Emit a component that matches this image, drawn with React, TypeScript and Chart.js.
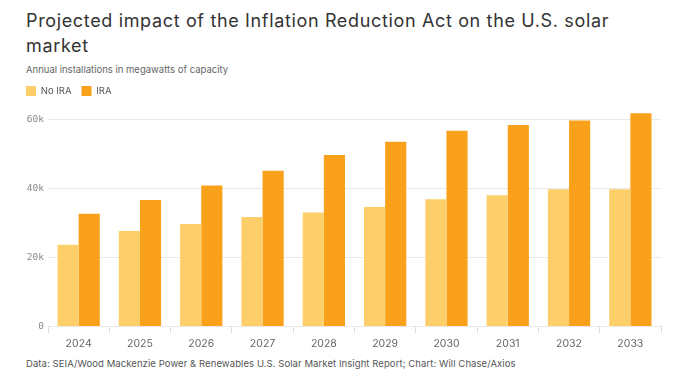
import React, { useEffect, useRef } from "react";
import { Chart, registerables } from "chart.js";

Chart.register(...registerables);

const years = ["2024", "2025", "2026", "2027", "2028", "2029", "2030", "2031", "2032", "2033"];
const noIra = [23700, 27700, 29700, 31800, 33100, 34700, 36900, 38100, 39800, 39800];
const ira = [32700, 36700, 40900, 45200, 49800, 53600, 56800, 58500, 59800, 61900];
const yTicks = [0, 20000, 40000, 60000];
const seriesNames = ["No IRA", "IRA"];
const seriesColors = ["#FDCF6A", "#F9A11B"];

const title = "Projected impact of the Inflation Reduction Act on the U.S. solar";
const titleWrap = "market";
const subtitle = "Annual installations in megawatts of capacity";
const footer = "Data: SEIA/Wood Mackenzie Power & Renewables U.S. Solar Market Insight Report; Chart: Will Chase/Axios";

const FONT = "Inter, 'Noto Sans', sans-serif";

export default function App() {
  const ref = useRef<HTMLCanvasElement | null>(null);
  useEffect(() => {
    if (!ref.current) return;
    const chart = new Chart(ref.current, {
      type: "bar",
      data: {
        labels: years,
        datasets: [
          { label: seriesNames[0], data: noIra, backgroundColor: seriesColors[0], borderWidth: 0 },
          { label: seriesNames[1], data: ira, backgroundColor: seriesColors[1], borderWidth: 0 },
        ],
      },
      options: {
        animation: false,
        responsive: false,
        maintainAspectRatio: false,
        layout: { padding: { left: 16, right: 19, top: 0, bottom: 2 } },
        datasets: { bar: { categoryPercentage: 0.69, barPercentage: 1 } },
        plugins: {
          legend: {
            display: true,
            position: "top",
            align: "start",
            labels: {
              boxWidth: 10,
              boxHeight: 10,
              padding: 10,
              color: "#555",
              font: { family: FONT, size: 9.5 },
            },
          },
          tooltip: { enabled: false },
        },
        scales: {
          x: {
            grid: { display: true, drawOnChartArea: false, drawTicks: true, tickLength: 7, color: "#dddddd" },
            border: { display: false },
            ticks: { color: "#666", padding: 4, font: { family: FONT, size: 10.5 } },
          },
          y: {
            min: 0,
            max: 64000,
            afterBuildTicks: (scale: any) => {
              scale.ticks = yTicks.map((v) => ({ value: v }));
            },
            afterFit: (scale: any) => {
              scale.width = 32;
            },
            grid: { color: "#e8e8e8", drawTicks: false },
            border: { display: false },
            ticks: {
              padding: 4,
              color: "#8a8a8a",
              font: { family: "'DejaVu Sans Mono', monospace", size: 9.5 },
              callback: (v: any) => (v === 0 ? "0" : v / 1000 + "k"),
            },
          },
        },
      },
    });
    return () => chart.destroy();
  }, []);

  return (
    <div style={{ position: "absolute", left: 0, top: 0, width: 680, height: 385, background: "#fff", fontFamily: FONT }}>
      <div style={{ position: "absolute", left: 26, top: 9, fontSize: 18, letterSpacing: "0.65px", lineHeight: "24.6px", color: "#333", whiteSpace: "nowrap" }}>
        {title}
        <br />
        {titleWrap}
      </div>
      <div style={{ position: "absolute", left: 26, top: 64, fontSize: 9.5, lineHeight: "12px", color: "#666", whiteSpace: "nowrap" }}>
        {subtitle}
      </div>
      <canvas ref={ref} width={680} height={280} style={{ position: "absolute", left: 0, top: 76, width: 680, height: 280 }} />
      <div style={{ position: "absolute", left: 26, top: 358, fontSize: 9.5, letterSpacing: "0.08px", lineHeight: "12px", color: "#555", whiteSpace: "nowrap" }}>
        {footer}
      </div>
    </div>
  );
}
